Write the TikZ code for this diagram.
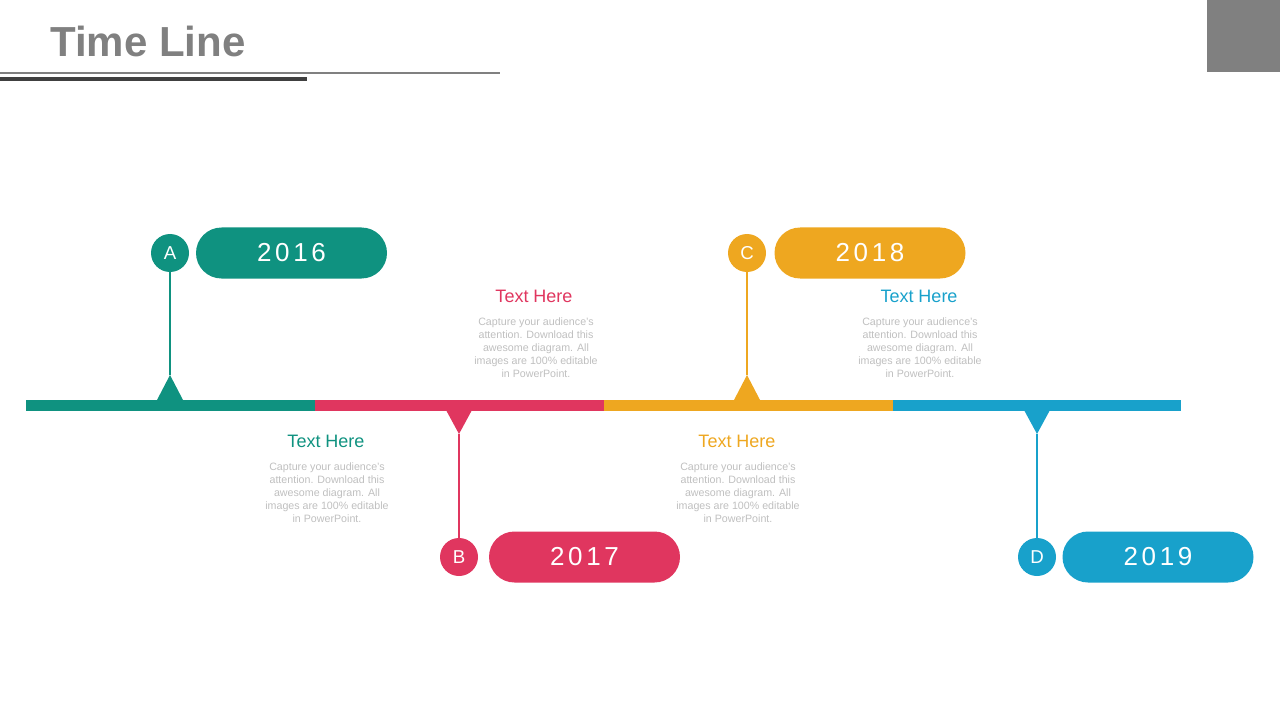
\documentclass[tikz,border=0pt]{standalone}
\usepackage{fontspec}
\setmainfont{Liberation Sans}
\newfontfamily\yearfont[LetterSpace=14]{Liberation Sans}
\usetikzlibrary{shapes.misc}
\definecolor{tealA}{HTML}{0F9280}
\definecolor{pinkB}{HTML}{E0365F}
\definecolor{orangeC}{HTML}{EEA720}
\definecolor{blueD}{HTML}{18A1CB}
\definecolor{titlegray}{HTML}{808080}
\definecolor{rulegray}{HTML}{404040}
\definecolor{bodygray}{HTML}{BFBFBF}
\tikzset{
	letterdot/.style={circle, fill=#1, text=white, minimum size=28.5pt, inner sep=0pt, font=\fontsize{14}{14}\selectfont},
	yearpill/.style={rounded rectangle, fill=#1, text=white, minimum width=143.25pt, minimum height=38.25pt, inner sep=0pt, font=\yearfont\fontsize{19.5}{19.5}\selectfont},
	heading/.style={text=#1, inner sep=0pt, font=\fontsize{13.5}{13.5}\selectfont},
	bodytext/.style={text=bodygray, align=center, inner sep=0pt, font=\fontsize{8}{9.75}\selectfont},
	stem/.style={draw=#1, line width=0.9pt},
}
\begin{document}
\begin{tikzpicture}[x=0.75pt, y=-0.75pt]
	\useasboundingbox (0,0) rectangle (1280,720);
	\node (title) [anchor=base west, text=titlegray, inner sep=0pt, font=\bfseries\fontsize{31.5}{31.5}\selectfont] at (50,57) {Time Line};
	\fill [titlegray] (0,71.7) rectangle (500,73.7);
	\fill [rulegray] (0,76.8) rectangle (307,80.8);
	\fill [titlegray] (1207,0) rectangle (1280,72);

	\fill [tealA] (26,399.5) rectangle (315,410.5);
	\fill [pinkB] (315,399.5) rectangle (604,410.5);
	\fill [orangeC] (604,399.5) rectangle (893,410.5);
	\fill [blueD] (893,399.5) rectangle (1181,410.5);

	\coordinate (tipA) at (170,375);
	\coordinate (tipB) at (459,434);
	\coordinate (tipC) at (747,375);
	\coordinate (tipD) at (1037,434);
	\fill [tealA] (157,400) -- (tipA) -- (183,400) -- cycle;
	\fill [pinkB] (446,410) -- (tipB) -- (472,410) -- cycle;
	\fill [orangeC] (734,400) -- (tipC) -- (760,400) -- cycle;
	\fill [blueD] (1024,410) -- (tipD) -- (1050,410) -- cycle;

	\node (dotA) [letterdot=tealA] at (170,253) {A};
	\node (dotB) [letterdot=pinkB] at (459,557) {B};
	\node (dotC) [letterdot=orangeC] at (747,253) {C};
	\node (dotD) [letterdot=blueD] at (1037,557) {D};

	\draw [stem=tealA] (dotA) -- (tipA);
	\draw [stem=pinkB] (dotB) -- (tipB);
	\draw [stem=orangeC] (dotC) -- (tipC);
	\draw [stem=blueD] (dotD) -- (tipD);

	\node (yearA) [yearpill=tealA] at (291.5,253) {2016};
	\node (yearB) [yearpill=pinkB] at (584.5,557) {2017};
	\node (yearC) [yearpill=orangeC] at (870,253) {2018};
	\node (yearD) [yearpill=blueD] at (1158,557) {2019};

	\node (headA) [heading=tealA] at (326,441) {Text Here};
	\node (headB) [heading=pinkB] at (534,296) {Text Here};
	\node (headC) [heading=orangeC] at (737,441) {Text Here};
	\node (headD) [heading=blueD] at (919,296) {Text Here};

	\node (bodyA) [bodytext] at (327,493) {Capture your audience's\\attention. Download this\\awesome diagram. All\\images are 100\% editable\\in PowerPoint.};
	\node (bodyB) [bodytext] at (536,348) {Capture your audience's\\attention. Download this\\awesome diagram. All\\images are 100\% editable\\in PowerPoint.};
	\node (bodyC) [bodytext] at (738,493) {Capture your audience's\\attention. Download this\\awesome diagram. All\\images are 100\% editable\\in PowerPoint.};
	\node (bodyD) [bodytext] at (920,348) {Capture your audience's\\attention. Download this\\awesome diagram. All\\images are 100\% editable\\in PowerPoint.};
\end{tikzpicture}
\end{document}
